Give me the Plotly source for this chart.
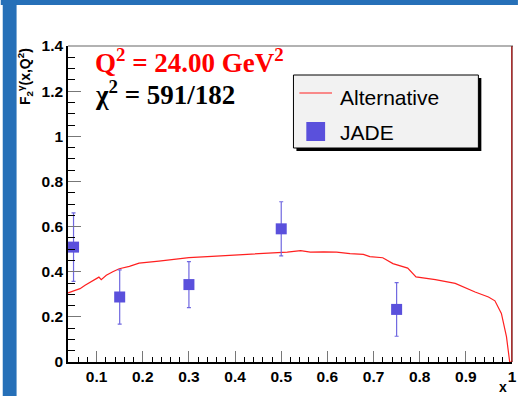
import plotly.graph_objects as go

# ---- data ----
curve_x = [0.038, 0.05, 0.064, 0.075, 0.089, 0.100, 0.105, 0.110, 0.121, 0.135, 0.149,
           0.171, 0.192, 0.235, 0.30, 0.35, 0.407, 0.449, 0.492, 0.513, 0.542, 0.563,
           0.592, 0.620, 0.649, 0.678, 0.692, 0.720, 0.742, 0.774, 0.792, 0.834, 0.877,
           0.920, 0.949, 0.963, 0.977, 0.988, 0.995, 1.0, 1.0]
curve_y = [0.306, 0.315, 0.325, 0.340, 0.357, 0.372, 0.376, 0.365, 0.384, 0.400, 0.413,
           0.424, 0.438, 0.447, 0.462, 0.468, 0.475, 0.480, 0.483, 0.487, 0.493, 0.487,
           0.488, 0.487, 0.480, 0.477, 0.467, 0.462, 0.436, 0.416, 0.377, 0.365, 0.348,
           0.310, 0.288, 0.271, 0.215, 0.112, 0.0, 0.0, 1.4]

jade_x = [0.05, 0.15, 0.30, 0.50, 0.75]
jade_y = [0.509, 0.288, 0.343, 0.590, 0.233]
jade_err = [0.152, 0.120, 0.102, 0.120, 0.119]

legend_labels = ["Alternative", "JADE"]

x_ticks = [0.1, 0.2, 0.3, 0.4, 0.5, 0.6, 0.7, 0.8, 0.9, 1.0]
x_ticktext = ["0.1", "0.2", "0.3", "0.4", "0.5", "0.6", "0.7", "0.8", "0.9", "1"]
y_ticks = [0, 0.2, 0.4, 0.6, 0.8, 1.0, 1.2, 1.4]
y_ticktext = ["0", "0.2", "0.4", "0.6", "0.8", "1", "1.2", "1.4"]

# ---- geometry helpers (paper coords from pixel) ----
W, H = 523, 396
L, R, T, B = 68, 6, 46, 34
PW, PH = W - L - R, H - T - B


def px(x):
    return (x - L) / PW


def py(y):
    return (H - B - y) / PH


blue = "#2670b8"
marker_col = "#5a50dc"
err_col = "#7068e0"
curve_col = "#ff2020"

fig = go.Figure()

fig.add_trace(go.Scatter(
    x=curve_x, y=curve_y, mode="lines", name=legend_labels[0],
    line=dict(color=curve_col, width=1.2), showlegend=False, hoverinfo="skip"))

fig.add_trace(go.Scatter(
    x=jade_x, y=jade_y, mode="markers", name=legend_labels[1], showlegend=False,
    marker=dict(symbol="square", size=11, color=marker_col),
    error_y=dict(type="data", array=jade_err, color=err_col, thickness=1.2, width=2)))

axis_font = dict(family="Liberation Sans", size=15.5, color="black", weight="bold")

fig.update_xaxes(
    range=[0.038, 1.0], showgrid=False, zeroline=False,
    showline=True, linecolor="black", linewidth=1.5,
    tickvals=x_ticks, ticktext=x_ticktext, ticks="inside", ticklen=11,
    tickcolor="#777777", tickwidth=1.2, tickfont=axis_font, ticklabelstandoff=0,
    minor=dict(dtick=0.02, tick0=0, ticks="inside", ticklen=5, tickcolor="black", tickwidth=1))
fig.update_yaxes(
    range=[0, 1.4], showgrid=False, zeroline=False,
    showline=True, linecolor="black", linewidth=1.5,
    tickvals=y_ticks, ticktext=y_ticktext, ticks="inside", ticklen=13,
    tickcolor="#777777", tickwidth=1.2, tickfont=axis_font,
    minor=dict(dtick=0.05, tick0=0, ticks="inside", ticklen=7, tickcolor="black", tickwidth=1))

# legend box geometry (pixels)
LX0, LX1, LY0, LY1 = 296, 483, 75, 148

shapes = [
    # blue frame strips
    dict(type="rect", xref="paper", yref="paper", x0=px(0), x1=px(W), y0=py(0), y1=py(5),
         fillcolor=blue, line=dict(width=0), layer="below"),
    dict(type="rect", xref="paper", yref="paper", x0=px(2), x1=px(16), y0=py(0), y1=py(H),
         fillcolor=blue, line=dict(width=0), layer="below"),
    # top frame line
    dict(type="line", xref="paper", yref="paper", x0=0, x1=px(518), y0=1, y1=1,
         line=dict(color="#999999", width=1.5)),
    # right frame line
    dict(type="line", xref="paper", yref="paper", x0=1, x1=1, y0=0, y1=1,
         line=dict(color="#700000", width=1.2)),
    # legend shadow + box
    dict(type="rect", xref="paper", yref="paper", x0=px(LX0 + 3), x1=px(LX1 + 3),
         y0=py(LY1 + 3), y1=py(LY0 + 3), fillcolor="black", line=dict(width=0)),
    dict(type="rect", xref="paper", yref="paper", x0=px(LX0), x1=px(LX1),
         y0=py(LY1), y1=py(LY0), fillcolor="#f2f2f2", line=dict(color="black", width=1)),
    # legend symbols
    dict(type="line", xref="paper", yref="paper", x0=px(302), x1=px(335), y0=py(93), y1=py(93),
         line=dict(color=curve_col, width=1.2)),
    dict(type="rect", xref="paper", yref="paper", x0=px(309), x1=px(328), y0=py(141), y1=py(122),
         fillcolor=marker_col, line=dict(width=0)),
]

annotations = [
    dict(text="<b>Q<sup>2</sup> = 24.00 GeV<sup>2</sup></b>", xref="paper", yref="paper",
         x=px(93), y=py(61), xanchor="left", yanchor="middle", showarrow=False,
         font=dict(family="Liberation Serif", size=27, color="#ff0000")),
    dict(text="<b>χ<sup>2</sup> = 591/182</b>", xref="paper", yref="paper",
         x=px(93), y=py(93), xanchor="left", yanchor="middle", showarrow=False,
         font=dict(family="Liberation Serif", size=27, color="black")),
    dict(text="<b>F<sub>2</sub><sup>γ</sup>(x,Q<sup>2</sup>)</b>", xref="paper", yref="paper",
         x=px(24), y=py(46), xanchor="center", yanchor="top", textangle=-90, showarrow=False,
         font=dict(family="Liberation Sans", size=14, color="black")),
    dict(text="<b>x</b>", xref="paper", yref="paper",
         x=px(508), y=py(387), xanchor="center", yanchor="middle", showarrow=False,
         font=dict(family="Liberation Sans", size=14, color="black")),
    dict(text=legend_labels[0], xref="paper", yref="paper",
         x=px(341), y=py(97), xanchor="left", yanchor="middle", showarrow=False,
         font=dict(family="Liberation Sans", size=21, color="black")),
    dict(text=legend_labels[1], xref="paper", yref="paper",
         x=px(341), y=py(132), xanchor="left", yanchor="middle", showarrow=False,
         font=dict(family="Liberation Sans", size=21, color="black")),
]

fig.update_layout(
    width=W, height=H, margin=dict(l=L, r=R, t=T, b=B),
    paper_bgcolor="white", plot_bgcolor="white", showlegend=False,
    shapes=shapes, annotations=annotations,
)

fig.write_html("out.html")
